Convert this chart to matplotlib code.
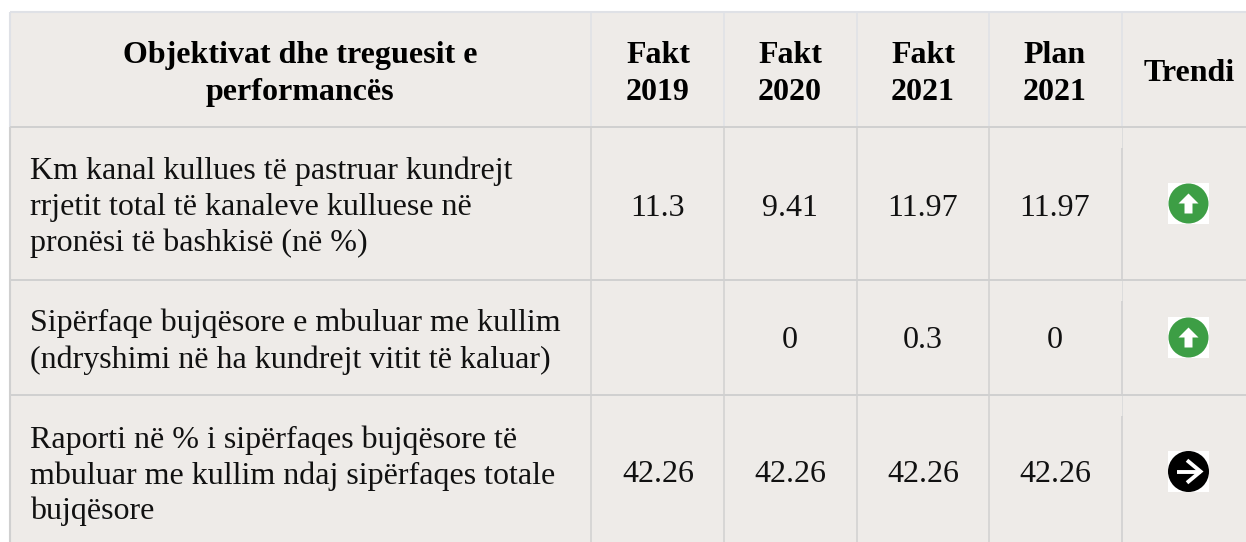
import matplotlib
matplotlib.use('Agg')
import matplotlib.pyplot as plt
from matplotlib.patches import Rectangle, Circle, Polygon

# table content
headers = ['Objektivat dhe treguesit e\nperformancës', 'Fakt\n2019', 'Fakt\n2020', 'Fakt\n2021', 'Plan\n2021', 'Trendi']
row_labels = [
    ['Km kanal kullues të pastruar kundrejt', 'rrjetit total të kanaleve kulluese në', 'pronësi të bashkisë (në %)'],
    ['Sipërfaqe bujqësore e mbuluar me kullim', '(ndryshimi në ha kundrejt vitit të kaluar)'],
    ['Raporti në % i sipërfaqes bujqësore të', 'mbuluar me kullim ndaj sipërfaqes totale', 'bujqësore'],
]
values = [
    ['11.3', '9.41', '11.97', '11.97'],
    ['', '0', '0.3', '0'],
    ['42.26', '42.26', '42.26', '42.26'],
]
trends = ['up', 'up', 'right']

# layout in pixels
W, H = 1246, 542
col_x = [10, 591, 724, 857, 989, 1122]
col_centers = [300, 658, 790, 923, 1055, 1189]
row_y = [12, 127, 280, 395, 542]
header_y = [[63, 100], [63, 100], [63, 100], [63, 100], [63, 100], [81]]
label_y = [[179, 215, 251], [331, 368], [448, 484, 519]]
value_y = [216, 348, 482]
icon_y = [203.5, 337.5, 471.5]

BG = '#eeebe8'
LINE = '#d0d0d0'
LIGHT = '#dfe1e6'
GREEN = '#3d9e45'

plt.rcParams['font.family'] = ['Liberation Serif', 'DejaVu Serif']
FS = 23

fig = plt.figure(figsize=(W / 100, H / 100), dpi=100)
ax = fig.add_axes([0, 0, 1, 1])
ax.set_xlim(0, W)
ax.set_ylim(H, 0)
ax.axis('off')

ax.add_patch(Rectangle((col_x[0], row_y[0]), W - col_x[0], H - row_y[0], fc=BG, ec='none'))

# grid lines, lighter in the header
ax.plot([col_x[0], W], [row_y[0], row_y[0]], color=LIGHT, lw=1.5, solid_capstyle='butt')
ax.plot([col_x[0], col_x[0]], [row_y[0], row_y[1]], color=LIGHT, lw=1.5, solid_capstyle='butt')
ax.plot([col_x[0], col_x[0]], [row_y[1], H], color=LINE, lw=1.5, solid_capstyle='butt')
for x in col_x[1:]:
    ax.plot([x, x], [row_y[0], row_y[1]], color=LIGHT, lw=1.1, solid_capstyle='butt')
for x in col_x[1:-1]:
    ax.plot([x, x], [row_y[1], H], color=LINE, lw=1.1, solid_capstyle='butt')

# last column: each body row starts with a thin pale stretch
for top, bottom in zip(row_y[1:-1], row_y[2:]):
    ax.plot([col_x[-1], col_x[-1]], [top, top + 21], color='#dcdcdc', lw=0.7, solid_capstyle='butt')
    ax.plot([col_x[-1], col_x[-1]], [top + 21, bottom], color=LINE, lw=1.2, solid_capstyle='butt')
for y in row_y[1:-1]:
    ax.plot([col_x[0], W], [y, y], color=LINE, lw=1.4, solid_capstyle='butt')

# header
for i, h in enumerate(headers):
    for line, y in zip(h.split('\n'), header_y[i]):
        ax.text(col_centers[i], y, line, ha='center', va='baseline', fontsize=FS, fontweight='bold', color='black')

# rows
for r, lines in enumerate(row_labels):
    for line, y in zip(lines, label_y[r]):
        ax.text(30, y, line, ha='left', va='baseline', fontsize=FS, color='#111111')
    for c, v in enumerate(values[r]):
        ax.text(col_centers[c + 1], value_y[r], v, ha='center', va='baseline', fontsize=FS, color='#111111')


def draw_icon(cx, cy, kind):
    ax.add_patch(Rectangle((cx - 20.5, cy - 20.5), 41, 41, fc='white', ec='none'))
    if kind == 'up':
        ax.add_patch(Circle((cx, cy), 20, fc=GREEN, ec='none'))
        pts = [(0, -10), (10, 0), (4, 0), (4, 10), (-4, 10), (-4, 0), (-10, 0)]
        ax.add_patch(Polygon([(cx + a, cy + b) for a, b in pts], fc='white', ec='none'))
    else:
        ax.add_patch(Circle((cx, cy), 20.5, fc='black', ec='none'))
        ax.plot([cx - 12, cx + 12], [cy, cy], color='white', lw=2.8, solid_capstyle='butt')
        ax.plot([cx, cx + 12, cx], [cy - 10, cy, cy + 10], color='white', lw=2.8, solid_joinstyle='miter')


for kind, y in zip(trends, icon_y):
    draw_icon(col_centers[-1] - 0.5, y, kind)

fig.savefig('out.png', dpi=100)
